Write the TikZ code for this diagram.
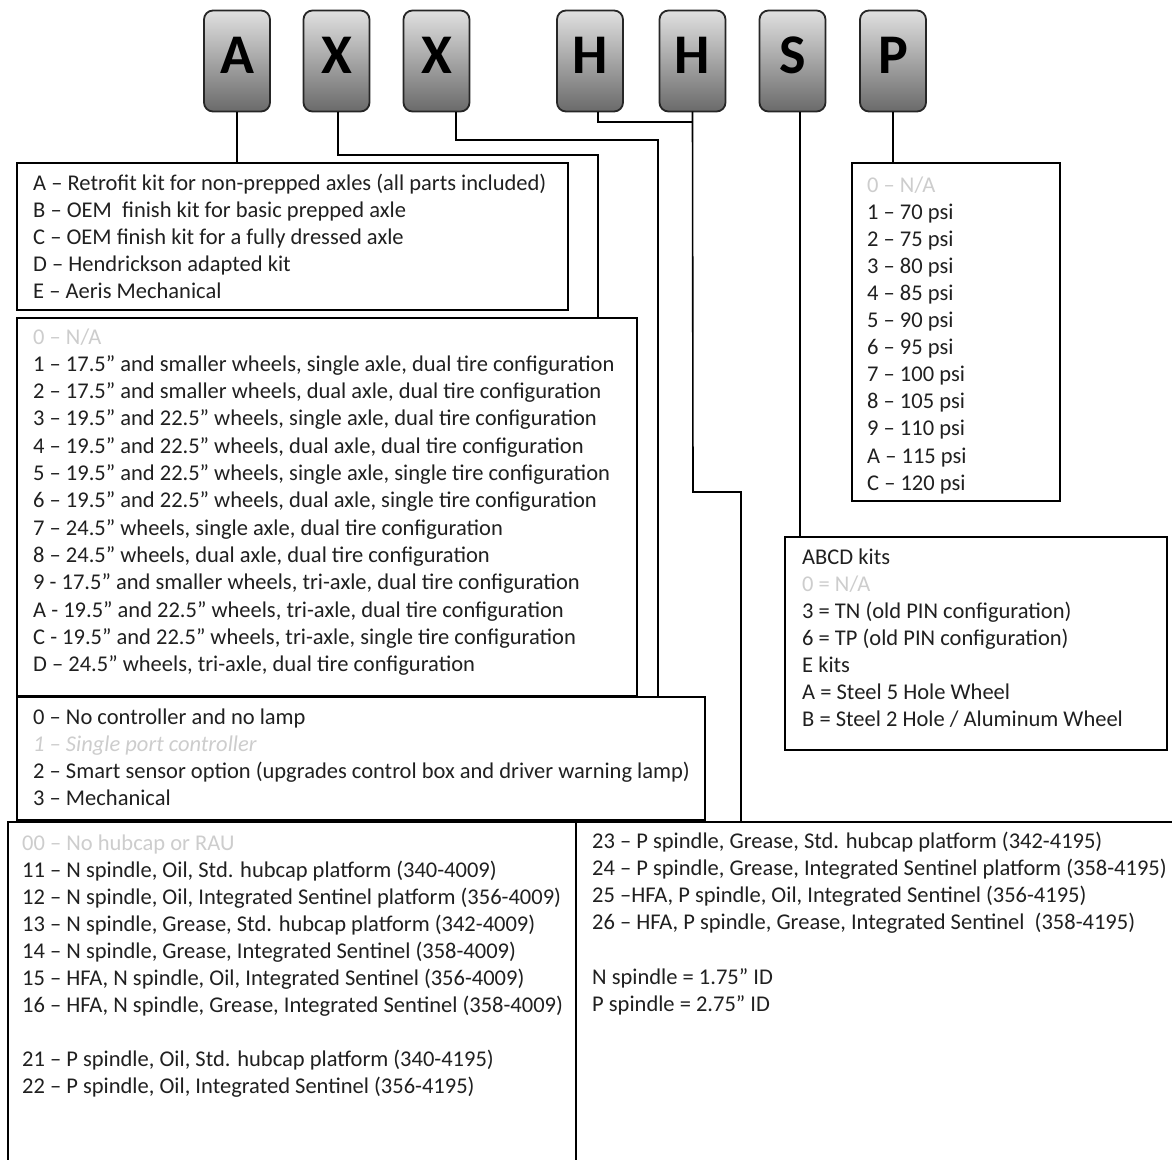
\documentclass[tikz,border=0pt]{standalone}
\usepackage{fontspec}
\setmainfont{Carlito}
\definecolor{txtc}{HTML}{202020}
\definecolor{faint}{HTML}{CDCDCD}
\definecolor{ltop}{HTML}{E0E0E0}
\definecolor{lbot}{HTML}{6A6A6A}
\newcommand\textlines[5]{%
  \foreach \t [count=\i from 0] in {#5} {\node[txt] (#4\i) at (#1,{#2+#3*\i}) {\t};}}
\begin{document}
\begin{tikzpicture}[x=1pt,y=-1pt,
  lbox/.style={draw=black!85, line width=1.8pt, rounded corners=9pt, top color=ltop, bottom color=lbot, minimum width=66pt, minimum height=101pt, inner sep=0, outer sep=0},
  letter/.style={font=\bfseries\fontsize{56}{56}\selectfont, text=black, inner sep=0},
  box/.style={draw=black, line width=1.6pt, inner sep=0, outer sep=0, anchor=north west},
  conn/.style={draw=black, line width=1.6pt},
  txt/.style={anchor=base west, inner sep=0, font=\fontsize{22.5}{27}\selectfont, text=txtc}]
\fill[white] (0,0) rectangle (1172,1159);
\useasboundingbox (0,0) rectangle (1172,1159);
\begin{scope}
\clip (0,0) rectangle (1172,1159);
% letter boxes
\foreach \n/\x/\l in {A/237/A, X1/336.5/X, X2/436.5/X, H1/590/H, H2/692.5/H, S/792.5/S, P/893/P}{
  \node[lbox] (\n) at (\x,61) {};
  \node[letter] (\n t) at ([yshift=6]\n.center) {\l};
}
% option boxes
\node[box, minimum width=551, minimum height=147] (box1) at (17,163) {};
\node[box, minimum width=620, minimum height=378] (box2) at (17,318) {};
\node[box, minimum width=688, minimum height=123] (box3) at (17,697) {};
\node[box, minimum width=568, minimum height=360] (box4a) at (8,822) {};
\node[box, minimum width=620, minimum height=360] (box4b) at (576,822) {};
\node[box, minimum width=208, minimum height=338] (boxP) at (852,163) {};
\node[box, minimum width=382, minimum height=213] (box5) at (785,537) {};
% connectors
\coordinate (t1) at (598,155);
\coordinate (t2) at (658,140);
\coordinate (t3) at (693,122);
\coordinate (t4) at (693,492);
\coordinate (t5) at (741,492);
\draw[conn] (A.south) -- (A.south |- box1.north);
\draw[conn] ([xshift=1.5]X1.south) |- (t1) -- (t1 |- box2.north);
\draw[conn] ([xshift=19.5]X2.south) |- (t2) -- (t2 |- box3.north);
\draw[conn] ([xshift=8]H1.south) |- (t3);
\draw[conn] (H2.south) -- (t4) -- (t5) -- (t5 |- box4b.north);
\draw[conn] ([xshift=7.5]S.south) -- ([xshift=7.5]S.south |- box5.north);
\draw[conn] (P.south) -- (P.south |- boxP.north);
% texts
\textlines{33}{190}{27}{a}{{A – Retrofit kit for non-prepped axles (all parts included)},
 {B – OEM~ finish kit for basic prepped axle},
 {C – OEM finish kit for a fully dressed axle},
 {D – Hendrickson adapted kit},
 {E – Aeris Mechanical}}
\textlines{33}{344}{27.3}{b}{{\color{faint}0 – N/A},
 {1 – 17.5” and smaller wheels, single axle, dual tire configuration},
 {2 – 17.5” and smaller wheels, dual axle, dual tire configuration},
 {3 – 19.5” and 22.5” wheels, single axle, dual tire configuration},
 {4 – 19.5” and 22.5” wheels, dual axle, dual tire configuration},
 {5 – 19.5” and 22.5” wheels, single axle, single tire configuration},
 {6 – 19.5” and 22.5” wheels, dual axle, single tire configuration},
 {7 – 24.5” wheels, single axle, dual tire configuration},
 {8 – 24.5” wheels, dual axle, dual tire configuration},
 {9 - 17.5” and smaller wheels, tri-axle, dual tire configuration},
 {A - 19.5” and 22.5” wheels, tri-axle, dual tire configuration},
 {C - 19.5” and 22.5” wheels, tri-axle, single tire configuration},
 {D – 24.5” wheels, tri-axle, dual tire configuration}}
\textlines{33}{724}{27.3}{c}{{0 – No controller and no lamp},
 {\color{faint}\itshape 1 – Single port controller},
 {2 – Smart sensor option (upgrades control box and driver warning lamp)},
 {3 – Mechanical}}
\textlines{22}{850}{27.1}{d}{{\color{faint}00 – No hubcap or RAU},
 {11 – N spindle, Oil, Std. hubcap platform (340-4009)},
 {12 – N spindle, Oil, Integrated Sentinel platform (356-4009)},
 {13 – N spindle, Grease, Std. hubcap platform (342-4009)},
 {14 – N spindle, Grease, Integrated Sentinel (358-4009)},
 {15 – HFA, N spindle, Oil, Integrated Sentinel (356-4009)},
 {16 – HFA, N spindle, Grease, Integrated Sentinel (358-4009)},
 {},
 {21 – P spindle, Oil, Std. hubcap platform (340-4195)},
 {22 – P spindle, Oil, Integrated Sentinel (356-4195)}}
\textlines{592}{848}{27.3}{e}{{23 – P spindle, Grease, Std. hubcap platform (342-4195)},
 {24 – P spindle, Grease, Integrated Sentinel platform (358-4195)},
 {25 –HFA, P spindle, Oil, Integrated Sentinel (356-4195)},
 {26 – HFA, P spindle, Grease, Integrated Sentinel~ (358-4195)},
 {},
 {N spindle = 1.75” ID},
 {P spindle = 2.75” ID}}
\textlines{867}{192}{27.1}{f}{{\color{faint}0 – N/A},
 {1 – 70 psi},{2 – 75 psi},{3 – 80 psi},{4 – 85 psi},{5 – 90 psi},{6 – 95 psi},
 {7 – 100 psi},{8 – 105 psi},{9 – 110 psi},{A – 115 psi},{C – 120 psi}}
\textlines{802}{564}{27}{g}{{ABCD kits},
 {\color{faint}0 = N/A},
 {3 = TN (old PIN configuration)},
 {6 = TP (old PIN configuration)},
 {E kits},
 {A = Steel 5 Hole Wheel},
 {B = Steel 2 Hole / Aluminum Wheel}}
\end{scope}
\end{tikzpicture}
\end{document}
